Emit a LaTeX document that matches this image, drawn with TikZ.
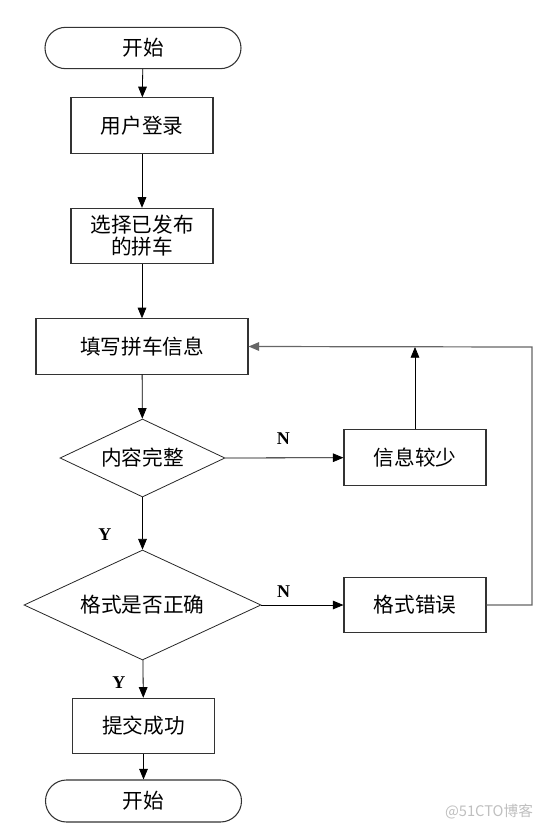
\documentclass[tikz,border=0pt]{standalone}
\usepackage{fontspec}
\setmainfont{Liberation Serif}
\newfontfamily\cjk{Noto Sans CJK SC}
\usetikzlibrary{shapes.geometric,shapes.misc,arrows.meta}

\begin{document}
\begin{tikzpicture}[x=0.75pt, y=-0.75pt,
    every node/.style={font=\cjk\fontsize{15.5}{16.5}\selectfont, inner sep=0pt},
    term/.style={rounded rectangle, draw=black!80, line width=0.8pt, minimum width=147pt, minimum height=31pt},
    proc/.style={rectangle, draw=black!80, line width=0.8pt, minimum width=106.5pt, minimum height=41.5pt, align=center},
    cond/.style={diamond, draw=black!85, line width=0.6pt, aspect=2.15},
    flow/.style={-{Triangle[length=8pt,width=6.5pt]}, line width=0.6pt, black},
    yn/.style={font=\bfseries\fontsize{13.5}{15}\selectfont}]
    \useasboundingbox (0,0) rectangle (542,829);
    % main column
    \node[term] (start) at (143,48) {开始};
    \node[proc] (login) at (142,125.5) {用户登录};
    \node[proc] (pick) at (142,236) {选择已发布\\的拼车};
    \node[proc, minimum width=159pt] (fill) at (142,346.5) {填写拼车信息};
    \node[cond, minimum width=123.75pt, minimum height=58.5pt] (full) at (142.5,458) {内容完整};
    \node[cond, minimum width=177.75pt, minimum height=82.5pt] (fmt) at (142.5,605) {格式是否正确};
    \node[proc] (ok) at (143.5,726) {提交成功};
    \node[term, minimum height=31.5pt] (stop) at (143.5,801) {开始};
    % right column
    \node[proc] (less) at (415,457.5) {信息较少};
    \node[proc] (wrong) at (415,605) {格式错误};
    \coordinate (back) at (532,347);
    \node[text=black!25, font=\cjk\fontsize{11}{13}\selectfont] (mark) at (489,812) {@51CTO博客};
    % connectors
    \draw[flow] (start) -- (login);
    \draw[flow] (login) -- (pick);
    \draw[flow] (pick) -- (fill);
    \draw[flow] (fill) -- (full);
    \draw[flow] (full) -- node[yn, pos=0.72, left=23pt] {Y} (fmt);
    \draw[flow] (fmt) -- node[yn, pos=0.6, left=13pt] {Y} (ok);
    \draw[flow] (ok) -- (stop);
    \draw[flow] (full.east) -- node[yn, pos=0.49, above=10pt] {N} (less);
    \draw[flow] (fmt.east) -- node[yn, pos=0.27, above=5pt] {N} (wrong);
    \draw[flow] (less.north) -- (less.north |- back);
    \draw[flow, draw=black!60, line width=0.9pt] (wrong.east) -| (back) -- (fill.east);
\end{tikzpicture}
\end{document}
